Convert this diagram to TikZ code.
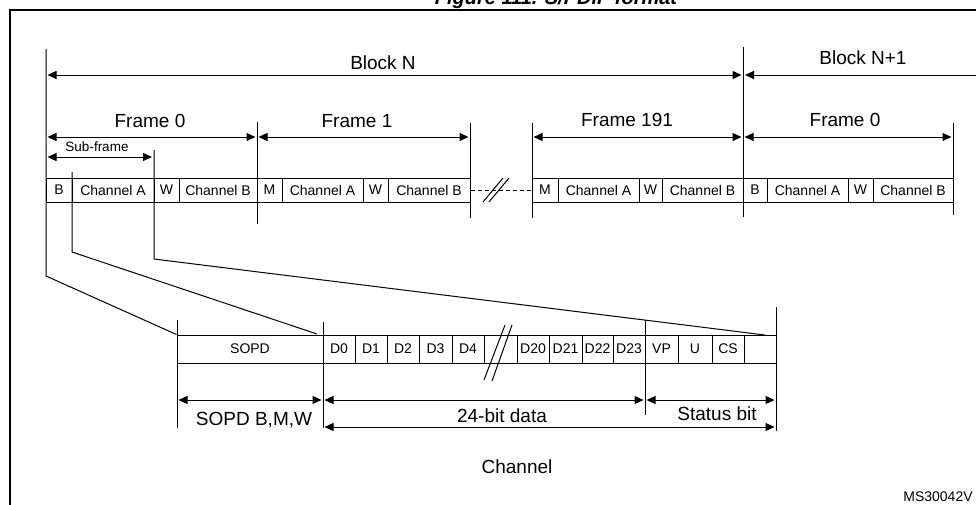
\documentclass[tikz,border=0pt]{standalone}
\usepackage{fontspec}
\setmainfont{Liberation Sans}
\usetikzlibrary{arrows.meta}
\begin{document}
\begin{tikzpicture}[x=1pt,y=-1pt,
  ln/.style={line width=1pt},
  dim/.style={line width=1pt,{Triangle[length=9pt,width=8pt]}-{Triangle[length=9pt,width=8pt]}},
  dimL/.style={line width=1pt,{Triangle[length=9pt,width=8pt]}-},
  cellst/.style={draw,line width=1pt,inner sep=0pt,font=\fontsize{14}{16}\selectfont},
  big/.style={font=\fontsize{19}{22}\selectfont,inner sep=0pt},
  small/.style={font=\fontsize{14}{16}\selectfont,inner sep=0pt}]
\useasboundingbox (0,0) rectangle (976,504);
% outer frame and title
\draw[line width=2pt] (10,10) rectangle (1000,530);
\node[anchor=base,inner sep=0pt,font=\bfseries\itshape\fontsize{20}{24}\selectfont] (title) at (556,4) {Figure 111. S/PDIF format};
% top row cells
\foreach \a/\b/\t/\n in {46/72/B/c1,72/154/Channel A/c2,154/179/W/c3,179/257/Channel B/c4,
  257/282/M/c5,282/363/Channel A/c6,363/388/W/c7,388/470/Channel B/c8,
  532/558/M/c9,558/639/Channel A/c10,639/662/W/c11,662/743/Channel B/c12,
  743/767/B/c13,767/848/Channel A/c14,848/873/W/c15,873/953/Channel B/c16}{
  \pgfmathsetmacro\w{\b-\a}\pgfmathsetmacro\m{(\a+\b)/2}
  \node[cellst,minimum width=\w pt,minimum height=24pt] (\n) at (\m,190) {\t};
}
% bottom row cells
\foreach \a/\b/\t/\n in {177/323/SOPD/d1,323/355/D0/d2,355/387/D1/d3,387/419/D2/d4,419/452/D3/d5,
  452/484/D4/d6,484/517//d7,517/549/D20/d8,549/582/D21/d9,582/613/D22/d10,613/645/D23/d11,
  645/678/VP/d12,678/712/U/d13,712/744/CS/d14,744/776//d15}{
  \pgfmathsetmacro\w{\b-\a}\pgfmathsetmacro\m{(\a+\b)/2}
  \node[cellst,minimum width=\w pt,minimum height=28pt] (\n) at (\m,349) {\t};
}
% coordinates
\coordinate (v1t) at (46,49);   \coordinate (v1b) at (46,276);
\coordinate (v2t) at (72,172);  \coordinate (v2b) at (72,252);
\coordinate (v3t) at (154,150); \coordinate (v3b) at (154,259);
\coordinate (f1t) at (257,122); \coordinate (f1b) at (257,224);
\coordinate (f2t) at (470,123); \coordinate (f2b) at (470,218);
\coordinate (f3t) at (532,123); \coordinate (f3b) at (532,218);
\coordinate (f4t) at (743,47);  \coordinate (f4b) at (743,217);
\coordinate (f5t) at (953,123); \coordinate (f5b) at (953,215);
\coordinate (s1t) at (177,320); \coordinate (s1b) at (177,428);
\coordinate (s2t) at (323,322); \coordinate (s2b) at (323,428);
\coordinate (s3t) at (645,320); \coordinate (s3b) at (645,415);
\coordinate (s4t) at (776,307); \coordinate (s4b) at (776,431);
\coordinate (e2) at (317,334);  \coordinate (e3) at (765,335);
% vertical lines and expansion lines
\draw[ln] (v1t) -- (v1b) -- (d1.north west);
\draw[ln] (v2t) -- (v2b) -- (e2);
\draw[ln] (v3t) -- (v3b) -- (e3);
\foreach \p in {f1,f2,f3,f4,f5,s1,s2,s3,s4} \draw[ln] (\p t) -- (\p b);
% block arrows
\coordinate (bl) at (46,75); \coordinate (bm) at (743,75); \coordinate (br) at (985,75);
\draw[dim,shorten <=1.5pt,shorten >=1.5pt] (bl) -- (bm);
\draw[dimL,shorten <=2pt] (bm) -- (br);
\node[big] (blockn) at (383,63) {Block N};
\node[big] (blockn1) at (863,58) {Block N+1};
% frame arrows
\coordinate (a0) at (46,137); \coordinate (a1) at (257,137); \coordinate (a2) at (470,137);
\coordinate (a3) at (532,137); \coordinate (a4) at (743,137); \coordinate (a5) at (953,137);
\draw[dim,shorten <=1.5pt,shorten >=1.5pt] (a0) -- (a1);
\draw[dim,shorten <=1.5pt,shorten >=1.5pt] (a1) -- (a2);
\draw[dim,shorten <=1.5pt,shorten >=1.5pt] (a3) -- (a4);
\draw[dim,shorten <=1.5pt,shorten >=1.5pt] (a4) -- (a5);
\node[big] (fr0) at (150,121) {Frame 0};
\node[big] (fr1) at (357,121) {Frame 1};
\node[big] (fr191) at (627,120) {Frame 191};
\node[big] (fr0b) at (845,120) {Frame 0};
% sub-frame
\coordinate (sf0) at (46,157); \coordinate (sf1) at (154,157);
\draw[dim,shorten <=1.5pt,shorten >=2pt] (sf0) -- (sf1);
\node[small,font=\fontsize{13.5}{16}\selectfont] (subf) at (97,147) {Sub-frame};
% dashed gap with break marks
\draw[ln,dash pattern=on 4pt off 3pt] (c8.east) -- (c9.west);
\coordinate (k1a) at (483,202); \coordinate (k1b) at (503,178);
\coordinate (k2a) at (489,202); \coordinate (k2b) at (509,178);
\draw[ln] (k1a) -- (k1b); \draw[ln] (k2a) -- (k2b);
\coordinate (m1a) at (484,380); \coordinate (m1b) at (505,325);
\coordinate (m2a) at (492,381); \coordinate (m2b) at (512,325);
\draw[ln] (m1a) -- (m1b); \draw[ln] (m2a) -- (m2b);
% bottom dimension arrows
\coordinate (b0) at (177,400); \coordinate (b1) at (323,400); \coordinate (b2) at (645,400); \coordinate (b3) at (776,400);
\draw[dim,shorten <=1.5pt,shorten >=1.5pt] (b0) -- (b1);
\draw[dim,shorten <=1.5pt,shorten >=1.5pt] (b1) -- (b2);
\draw[dim,shorten <=1.5pt,shorten >=1.5pt] (b2) -- (b3);
\coordinate (c0) at (323,427); \coordinate (cx) at (776,427);
\draw[dim,shorten <=1.5pt,shorten >=1.5pt] (c0) -- (cx);
\node[big] (sopdl) at (254,420) {SOPD B,M,W};
\node[big] (datal) at (502,416) {24-bit data};
\node[big] (statl) at (717,414) {Status bit};
\node[big] (chl) at (517,467) {Channel};
\node[small] (ms) at (938,497) {MS30042V};
\end{tikzpicture}
\end{document}
